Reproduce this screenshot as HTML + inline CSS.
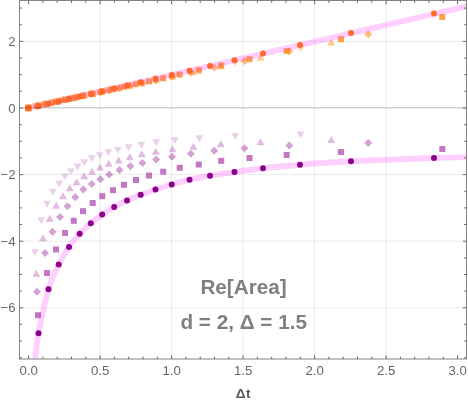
<!DOCTYPE html>
<html><head><meta charset="utf-8"><title>Re[Area]</title>
<style>
html,body{margin:0;padding:0;background:#fff;}
svg{display:block;will-change:transform;}
text{font-family:"Liberation Sans",Arial,sans-serif;}
.tk{font-size:13.2px;fill:#666;}
  .big{font-size:20.7px;font-weight:bold;fill:#808080;}
.ax{font-size:13.6px;font-weight:bold;fill:#5a5a5a;letter-spacing:0.4px;}
</style></head><body>
<svg width="468" height="403" viewBox="0 0 468 403">
<rect width="468" height="403" fill="#fff"/>
<defs><clipPath id="c"><rect x="19.5" y="0.5" width="447.0" height="358.5"/></clipPath></defs>

<path d="M100.1 0.5V359.0M171.6 0.5V359.0M243.1 0.5V359.0M314.6 0.5V359.0M386.1 0.5V359.0M19.5 41.4H466.5M19.5 174.6H466.5M19.5 241.2H466.5M19.5 307.8H466.5" stroke="#d6d6d6" stroke-width="0.5" fill="none"/>
<path d="M28.4 111.4L32.4 104.4L24.4 104.4Z" fill="#ff8a14" fill-opacity="0.33"/>
<path d="M35.0 110.0L39.0 103.0L31.0 103.0Z" fill="#ff8a14" fill-opacity="0.33"/>
<path d="M41.2 108.7L45.2 101.7L37.2 101.7Z" fill="#ff8a14" fill-opacity="0.33"/>
<path d="M47.0 107.4L51.0 100.4L43.0 100.4Z" fill="#ff8a14" fill-opacity="0.33"/>
<path d="M52.9 106.1L56.9 99.1L48.9 99.1Z" fill="#ff8a14" fill-opacity="0.33"/>
<path d="M59.0 104.8L63.0 97.8L55.0 97.8Z" fill="#ff8a14" fill-opacity="0.33"/>
<path d="M65.0 103.5L69.0 96.5L61.0 96.5Z" fill="#ff8a14" fill-opacity="0.33"/>
<path d="M71.0 102.2L75.0 95.2L67.0 95.2Z" fill="#ff8a14" fill-opacity="0.33"/>
<path d="M77.5 100.8L81.5 93.8L73.5 93.8Z" fill="#ff8a14" fill-opacity="0.33"/>
<path d="M84.3 99.3L88.3 92.3L80.3 92.3Z" fill="#ff8a14" fill-opacity="0.33"/>
<path d="M91.8 97.7L95.8 90.7L87.8 90.7Z" fill="#ff8a14" fill-opacity="0.33"/>
<path d="M99.7 96.0L103.7 89.0L95.7 89.0Z" fill="#ff8a14" fill-opacity="0.33"/>
<path d="M108.3 94.1L112.3 87.1L104.3 87.1Z" fill="#ff8a14" fill-opacity="0.33"/>
<path d="M117.8 92.1L121.8 85.1L113.8 85.1Z" fill="#ff8a14" fill-opacity="0.33"/>
<path d="M128.7 89.7L132.7 82.7L124.7 82.7Z" fill="#ff8a14" fill-opacity="0.33"/>
<path d="M141.3 87.0L145.3 80.0L137.3 80.0Z" fill="#ff8a14" fill-opacity="0.33"/>
<path d="M156.2 83.7L160.2 76.7L152.2 76.7Z" fill="#ff8a14" fill-opacity="0.33"/>
<path d="M174.7 79.7L178.7 72.7L170.7 72.7Z" fill="#ff8a14" fill-opacity="0.33"/>
<path d="M199.5 74.3L203.5 67.3L195.5 67.3Z" fill="#ff8a14" fill-opacity="0.33"/>
<path d="M235.2 66.6L239.2 59.6L231.2 59.6Z" fill="#ff8a14" fill-opacity="0.33"/>
<path d="M300.5 52.5L304.5 45.5L296.5 45.5Z" fill="#ff8a14" fill-opacity="0.33"/>
<path d="M28.4 104.4L32.4 111.4L24.4 111.4Z" fill="#ff8a14" fill-opacity="0.45"/>
<path d="M36.3 101.8L40.3 108.8L32.3 108.8Z" fill="#ff8a14" fill-opacity="0.45"/>
<path d="M43.0 100.4L47.0 107.4L39.0 107.4Z" fill="#ff8a14" fill-opacity="0.45"/>
<path d="M49.7 99.0L53.7 106.0L45.7 106.0Z" fill="#ff8a14" fill-opacity="0.45"/>
<path d="M56.2 97.6L60.2 104.6L52.2 104.6Z" fill="#ff8a14" fill-opacity="0.45"/>
<path d="M63.0 96.1L67.0 103.1L59.0 103.1Z" fill="#ff8a14" fill-opacity="0.45"/>
<path d="M69.8 94.7L73.8 101.7L65.8 101.7Z" fill="#ff8a14" fill-opacity="0.45"/>
<path d="M76.7 93.2L80.7 100.2L72.7 100.2Z" fill="#ff8a14" fill-opacity="0.45"/>
<path d="M84.2 91.6L88.2 98.6L80.2 98.6Z" fill="#ff8a14" fill-opacity="0.45"/>
<path d="M92.0 89.9L96.0 96.9L88.0 96.9Z" fill="#ff8a14" fill-opacity="0.45"/>
<path d="M100.0 88.2L104.0 95.2L96.0 95.2Z" fill="#ff8a14" fill-opacity="0.45"/>
<path d="M108.7 86.3L112.7 93.3L104.7 93.3Z" fill="#ff8a14" fill-opacity="0.45"/>
<path d="M118.7 84.2L122.7 91.2L114.7 91.2Z" fill="#ff8a14" fill-opacity="0.45"/>
<path d="M129.7 81.8L133.7 88.8L125.7 88.8Z" fill="#ff8a14" fill-opacity="0.45"/>
<path d="M141.7 79.2L145.7 86.2L137.7 86.2Z" fill="#ff8a14" fill-opacity="0.45"/>
<path d="M155.8 76.2L159.8 83.2L151.8 83.2Z" fill="#ff8a14" fill-opacity="0.45"/>
<path d="M172.5 72.6L176.5 79.6L168.5 79.6Z" fill="#ff8a14" fill-opacity="0.45"/>
<path d="M193.3 68.2L197.3 75.2L189.3 75.2Z" fill="#ff8a14" fill-opacity="0.45"/>
<path d="M220.8 62.3L224.8 69.3L216.8 69.3Z" fill="#ff8a14" fill-opacity="0.45"/>
<path d="M260.5 53.8L264.5 60.8L256.5 60.8Z" fill="#ff8a14" fill-opacity="0.45"/>
<path d="M331.2 38.6L335.2 45.6L327.2 45.6Z" fill="#ff8a14" fill-opacity="0.45"/>
<path d="M28.4 103.9L32.4 107.9L28.4 111.9L24.4 107.9Z" fill="#ff8a14" fill-opacity="0.58"/>
<path d="M37.0 102.1L41.0 106.1L37.0 110.1L33.0 106.1Z" fill="#ff8a14" fill-opacity="0.58"/>
<path d="M45.0 100.3L49.0 104.3L45.0 108.3L41.0 104.3Z" fill="#ff8a14" fill-opacity="0.58"/>
<path d="M52.5 98.7L56.5 102.7L52.5 106.7L48.5 102.7Z" fill="#ff8a14" fill-opacity="0.58"/>
<path d="M60.0 97.1L64.0 101.1L60.0 105.1L56.0 101.1Z" fill="#ff8a14" fill-opacity="0.58"/>
<path d="M67.5 95.5L71.5 99.5L67.5 103.5L63.5 99.5Z" fill="#ff8a14" fill-opacity="0.58"/>
<path d="M75.3 93.8L79.3 97.8L75.3 101.8L71.3 97.8Z" fill="#ff8a14" fill-opacity="0.58"/>
<path d="M83.3 92.0L87.3 96.0L83.3 100.0L79.3 96.0Z" fill="#ff8a14" fill-opacity="0.58"/>
<path d="M91.7 90.2L95.7 94.2L91.7 98.2L87.7 94.2Z" fill="#ff8a14" fill-opacity="0.58"/>
<path d="M100.3 88.3L104.3 92.3L100.3 96.3L96.3 92.3Z" fill="#ff8a14" fill-opacity="0.58"/>
<path d="M109.2 86.4L113.2 90.4L109.2 94.4L105.2 90.4Z" fill="#ff8a14" fill-opacity="0.58"/>
<path d="M119.5 84.2L123.5 88.2L119.5 92.2L115.5 88.2Z" fill="#ff8a14" fill-opacity="0.58"/>
<path d="M130.3 81.8L134.3 85.8L130.3 89.8L126.3 85.8Z" fill="#ff8a14" fill-opacity="0.58"/>
<path d="M142.5 79.2L146.5 83.2L142.5 87.2L138.5 83.2Z" fill="#ff8a14" fill-opacity="0.58"/>
<path d="M156.2 76.2L160.2 80.2L156.2 84.2L152.2 80.2Z" fill="#ff8a14" fill-opacity="0.58"/>
<path d="M172.0 72.8L176.0 76.8L172.0 80.8L168.0 76.8Z" fill="#ff8a14" fill-opacity="0.58"/>
<path d="M190.8 68.7L194.8 72.7L190.8 76.7L186.8 72.7Z" fill="#ff8a14" fill-opacity="0.58"/>
<path d="M214.2 63.6L218.2 67.6L214.2 71.6L210.2 67.6Z" fill="#ff8a14" fill-opacity="0.58"/>
<path d="M244.5 57.0L248.5 61.0L244.5 65.0L240.5 61.0Z" fill="#ff8a14" fill-opacity="0.58"/>
<path d="M289.3 47.3L293.3 51.3L289.3 55.3L285.3 51.3Z" fill="#ff8a14" fill-opacity="0.58"/>
<path d="M368.2 30.2L372.2 34.2L368.2 38.2L364.2 34.2Z" fill="#ff8a14" fill-opacity="0.58"/>
<rect x="25.4" y="104.9" width="6.0" height="6.0" fill="#ff8a14" fill-opacity="0.76"/>
<rect x="35.0" y="102.7" width="6.0" height="6.0" fill="#ff8a14" fill-opacity="0.76"/>
<rect x="44.0" y="100.8" width="6.0" height="6.0" fill="#ff8a14" fill-opacity="0.76"/>
<rect x="53.0" y="98.8" width="6.0" height="6.0" fill="#ff8a14" fill-opacity="0.76"/>
<rect x="62.0" y="96.8" width="6.0" height="6.0" fill="#ff8a14" fill-opacity="0.76"/>
<rect x="70.8" y="94.9" width="6.0" height="6.0" fill="#ff8a14" fill-opacity="0.76"/>
<rect x="80.0" y="92.9" width="6.0" height="6.0" fill="#ff8a14" fill-opacity="0.76"/>
<rect x="89.7" y="90.7" width="6.0" height="6.0" fill="#ff8a14" fill-opacity="0.76"/>
<rect x="99.3" y="88.6" width="6.0" height="6.0" fill="#ff8a14" fill-opacity="0.76"/>
<rect x="110.0" y="86.3" width="6.0" height="6.0" fill="#ff8a14" fill-opacity="0.76"/>
<rect x="121.0" y="83.9" width="6.0" height="6.0" fill="#ff8a14" fill-opacity="0.76"/>
<rect x="133.0" y="81.2" width="6.0" height="6.0" fill="#ff8a14" fill-opacity="0.76"/>
<rect x="146.0" y="78.4" width="6.0" height="6.0" fill="#ff8a14" fill-opacity="0.76"/>
<rect x="160.2" y="75.3" width="6.0" height="6.0" fill="#ff8a14" fill-opacity="0.76"/>
<rect x="176.7" y="71.6" width="6.0" height="6.0" fill="#ff8a14" fill-opacity="0.76"/>
<rect x="195.8" y="67.4" width="6.0" height="6.0" fill="#ff8a14" fill-opacity="0.76"/>
<rect x="218.2" y="62.5" width="6.0" height="6.0" fill="#ff8a14" fill-opacity="0.76"/>
<rect x="246.5" y="56.3" width="6.0" height="6.0" fill="#ff8a14" fill-opacity="0.76"/>
<rect x="283.7" y="48.1" width="6.0" height="6.0" fill="#ff8a14" fill-opacity="0.76"/>
<rect x="338.0" y="36.2" width="6.0" height="6.0" fill="#ff8a14" fill-opacity="0.76"/>
<rect x="439.3" y="14.0" width="6.0" height="6.0" fill="#ff8a14" fill-opacity="0.76"/>
<path d="M35.0 256.0L39.0 249.0L31.0 249.0Z" fill="#8b008b" fill-opacity="0.18"/>
<path d="M41.2 224.3L45.2 217.3L37.2 217.3Z" fill="#8b008b" fill-opacity="0.18"/>
<path d="M47.0 207.7L51.0 200.7L43.0 200.7Z" fill="#8b008b" fill-opacity="0.18"/>
<path d="M52.9 195.7L56.9 188.7L48.9 188.7Z" fill="#8b008b" fill-opacity="0.18"/>
<path d="M59.0 187.5L63.0 180.5L55.0 180.5Z" fill="#8b008b" fill-opacity="0.18"/>
<path d="M65.0 180.5L69.0 173.5L61.0 173.5Z" fill="#8b008b" fill-opacity="0.18"/>
<path d="M71.0 175.2L75.0 168.2L67.0 168.2Z" fill="#8b008b" fill-opacity="0.18"/>
<path d="M77.5 170.5L81.5 163.5L73.5 163.5Z" fill="#8b008b" fill-opacity="0.18"/>
<path d="M84.3 166.3L88.3 159.3L80.3 159.3Z" fill="#8b008b" fill-opacity="0.18"/>
<path d="M91.8 162.3L95.8 155.3L87.8 155.3Z" fill="#8b008b" fill-opacity="0.18"/>
<path d="M99.7 159.3L103.7 152.3L95.7 152.3Z" fill="#8b008b" fill-opacity="0.18"/>
<path d="M108.3 156.3L112.3 149.3L104.3 149.3Z" fill="#8b008b" fill-opacity="0.18"/>
<path d="M117.8 153.8L121.8 146.8L113.8 146.8Z" fill="#8b008b" fill-opacity="0.18"/>
<path d="M128.7 151.3L132.7 144.3L124.7 144.3Z" fill="#8b008b" fill-opacity="0.18"/>
<path d="M141.3 148.8L145.3 141.8L137.3 141.8Z" fill="#8b008b" fill-opacity="0.18"/>
<path d="M156.2 146.3L160.2 139.3L152.2 139.3Z" fill="#8b008b" fill-opacity="0.18"/>
<path d="M174.7 144.3L178.7 137.3L170.7 137.3Z" fill="#8b008b" fill-opacity="0.18"/>
<path d="M199.5 142.3L203.5 135.3L195.5 135.3Z" fill="#8b008b" fill-opacity="0.18"/>
<path d="M235.2 140.2L239.2 133.2L231.2 133.2Z" fill="#8b008b" fill-opacity="0.18"/>
<path d="M300.5 138.5L304.5 131.5L296.5 131.5Z" fill="#8b008b" fill-opacity="0.18"/>
<path d="M36.3 269.8L40.3 276.8L32.3 276.8Z" fill="#8b008b" fill-opacity="0.27"/>
<path d="M43.0 234.3L47.0 241.3L39.0 241.3Z" fill="#8b008b" fill-opacity="0.27"/>
<path d="M49.7 214.8L53.7 221.8L45.7 221.8Z" fill="#8b008b" fill-opacity="0.27"/>
<path d="M56.2 201.8L60.2 208.8L52.2 208.8Z" fill="#8b008b" fill-opacity="0.27"/>
<path d="M63.0 192.3L67.0 199.3L59.0 199.3Z" fill="#8b008b" fill-opacity="0.27"/>
<path d="M69.8 184.2L73.8 191.2L65.8 191.2Z" fill="#8b008b" fill-opacity="0.27"/>
<path d="M76.7 178.3L80.7 185.3L72.7 185.3Z" fill="#8b008b" fill-opacity="0.27"/>
<path d="M84.2 172.3L88.2 179.3L80.2 179.3Z" fill="#8b008b" fill-opacity="0.27"/>
<path d="M92.0 167.7L96.0 174.7L88.0 174.7Z" fill="#8b008b" fill-opacity="0.27"/>
<path d="M100.0 163.5L104.0 170.5L96.0 170.5Z" fill="#8b008b" fill-opacity="0.27"/>
<path d="M108.7 159.8L112.7 166.8L104.7 166.8Z" fill="#8b008b" fill-opacity="0.27"/>
<path d="M118.7 156.5L122.7 163.5L114.7 163.5Z" fill="#8b008b" fill-opacity="0.27"/>
<path d="M129.7 153.2L133.7 160.2L125.7 160.2Z" fill="#8b008b" fill-opacity="0.27"/>
<path d="M141.7 150.3L145.7 157.3L137.7 157.3Z" fill="#8b008b" fill-opacity="0.27"/>
<path d="M155.8 147.7L159.8 154.7L151.8 154.7Z" fill="#8b008b" fill-opacity="0.27"/>
<path d="M172.5 145.3L176.5 152.3L168.5 152.3Z" fill="#8b008b" fill-opacity="0.27"/>
<path d="M193.3 142.8L197.3 149.8L189.3 149.8Z" fill="#8b008b" fill-opacity="0.27"/>
<path d="M220.8 140.3L224.8 147.3L216.8 147.3Z" fill="#8b008b" fill-opacity="0.27"/>
<path d="M260.5 138.2L264.5 145.2L256.5 145.2Z" fill="#8b008b" fill-opacity="0.27"/>
<path d="M331.2 136.0L335.2 143.0L327.2 143.0Z" fill="#8b008b" fill-opacity="0.27"/>
<path d="M37.0 287.7L41.0 291.7L37.0 295.7L33.0 291.7Z" fill="#8b008b" fill-opacity="0.37"/>
<path d="M45.0 249.0L49.0 253.0L45.0 257.0L41.0 253.0Z" fill="#8b008b" fill-opacity="0.37"/>
<path d="M52.5 227.7L56.5 231.7L52.5 235.7L48.5 231.7Z" fill="#8b008b" fill-opacity="0.37"/>
<path d="M60.0 213.0L64.0 217.0L60.0 221.0L56.0 217.0Z" fill="#8b008b" fill-opacity="0.37"/>
<path d="M67.5 202.2L71.5 206.2L67.5 210.2L63.5 206.2Z" fill="#8b008b" fill-opacity="0.37"/>
<path d="M75.3 193.2L79.3 197.2L75.3 201.2L71.3 197.2Z" fill="#8b008b" fill-opacity="0.37"/>
<path d="M83.3 185.6L87.3 189.6L83.3 193.6L79.3 189.6Z" fill="#8b008b" fill-opacity="0.37"/>
<path d="M91.7 180.0L95.7 184.0L91.7 188.0L87.7 184.0Z" fill="#8b008b" fill-opacity="0.37"/>
<path d="M100.3 175.2L104.3 179.2L100.3 183.2L96.3 179.2Z" fill="#8b008b" fill-opacity="0.37"/>
<path d="M109.2 170.5L113.2 174.5L109.2 178.5L105.2 174.5Z" fill="#8b008b" fill-opacity="0.37"/>
<path d="M119.5 166.0L123.5 170.0L119.5 174.0L115.5 170.0Z" fill="#8b008b" fill-opacity="0.37"/>
<path d="M130.3 162.3L134.3 166.3L130.3 170.3L126.3 166.3Z" fill="#8b008b" fill-opacity="0.37"/>
<path d="M142.5 159.0L146.5 163.0L142.5 167.0L138.5 163.0Z" fill="#8b008b" fill-opacity="0.37"/>
<path d="M156.2 155.5L160.2 159.5L156.2 163.5L152.2 159.5Z" fill="#8b008b" fill-opacity="0.37"/>
<path d="M172.0 152.7L176.0 156.7L172.0 160.7L168.0 156.7Z" fill="#8b008b" fill-opacity="0.37"/>
<path d="M190.8 149.7L194.8 153.7L190.8 157.7L186.8 153.7Z" fill="#8b008b" fill-opacity="0.37"/>
<path d="M214.2 146.8L218.2 150.8L214.2 154.8L210.2 150.8Z" fill="#8b008b" fill-opacity="0.37"/>
<path d="M244.5 144.2L248.5 148.2L244.5 152.2L240.5 148.2Z" fill="#8b008b" fill-opacity="0.37"/>
<path d="M289.3 141.5L293.3 145.5L289.3 149.5L285.3 145.5Z" fill="#8b008b" fill-opacity="0.37"/>
<path d="M368.2 139.0L372.2 143.0L368.2 147.0L364.2 143.0Z" fill="#8b008b" fill-opacity="0.37"/>
<rect x="35.0" y="312.2" width="6.0" height="6.0" fill="#8b008b" fill-opacity="0.53"/>
<rect x="44.0" y="270.0" width="6.0" height="6.0" fill="#8b008b" fill-opacity="0.53"/>
<rect x="53.0" y="246.5" width="6.0" height="6.0" fill="#8b008b" fill-opacity="0.53"/>
<rect x="62.0" y="230.0" width="6.0" height="6.0" fill="#8b008b" fill-opacity="0.53"/>
<rect x="70.8" y="217.8" width="6.0" height="6.0" fill="#8b008b" fill-opacity="0.53"/>
<rect x="80.0" y="208.2" width="6.0" height="6.0" fill="#8b008b" fill-opacity="0.53"/>
<rect x="89.7" y="200.0" width="6.0" height="6.0" fill="#8b008b" fill-opacity="0.53"/>
<rect x="99.3" y="193.2" width="6.0" height="6.0" fill="#8b008b" fill-opacity="0.53"/>
<rect x="110.0" y="187.2" width="6.0" height="6.0" fill="#8b008b" fill-opacity="0.53"/>
<rect x="121.0" y="181.8" width="6.0" height="6.0" fill="#8b008b" fill-opacity="0.53"/>
<rect x="133.0" y="177.0" width="6.0" height="6.0" fill="#8b008b" fill-opacity="0.53"/>
<rect x="146.0" y="172.6" width="6.0" height="6.0" fill="#8b008b" fill-opacity="0.53"/>
<rect x="160.2" y="168.7" width="6.0" height="6.0" fill="#8b008b" fill-opacity="0.53"/>
<rect x="176.7" y="164.8" width="6.0" height="6.0" fill="#8b008b" fill-opacity="0.53"/>
<rect x="195.8" y="161.5" width="6.0" height="6.0" fill="#8b008b" fill-opacity="0.53"/>
<rect x="218.2" y="157.8" width="6.0" height="6.0" fill="#8b008b" fill-opacity="0.53"/>
<rect x="246.5" y="155.0" width="6.0" height="6.0" fill="#8b008b" fill-opacity="0.53"/>
<rect x="283.7" y="152.0" width="6.0" height="6.0" fill="#8b008b" fill-opacity="0.53"/>
<rect x="338.0" y="149.0" width="6.0" height="6.0" fill="#8b008b" fill-opacity="0.53"/>
<rect x="439.3" y="146.0" width="6.0" height="6.0" fill="#8b008b" fill-opacity="0.53"/>
<g clip-path="url(#c)">
<path d="M28.6 108.2L471.5 5.2" stroke="#ff00ff" stroke-opacity="0.185" stroke-width="5.9" fill="none" stroke-linecap="butt"/>
<path d="M33.2 380.0C33.6 376.3 34.4 365.8 35.3 358.0C36.2 350.2 36.3 344.6 38.5 333.2C40.7 321.8 45.1 300.8 48.5 289.3C51.9 277.9 55.3 271.6 58.7 264.5C62.1 257.4 65.5 252.1 69.0 247.0C72.5 241.9 76.1 237.6 79.7 233.7C83.3 229.8 87.0 226.5 90.8 223.3C94.5 220.1 98.3 217.2 102.2 214.5C106.1 211.8 110.1 209.3 114.2 207.0C118.3 204.7 122.6 202.6 127.0 200.5C131.4 198.4 135.9 196.5 140.7 194.7C145.4 192.9 150.3 191.2 155.5 189.5C160.7 187.8 166.0 186.1 171.7 184.5C177.4 182.9 183.1 181.1 189.5 179.7C195.9 178.2 202.5 177.1 210.0 175.8C217.5 174.5 225.7 173.2 234.5 172.0C243.3 170.8 252.1 169.5 263.0 168.3C273.9 167.1 285.3 165.9 300.0 164.7C314.7 163.5 328.7 162.4 351.0 161.3C373.3 160.2 414.8 158.7 434.0 158.0C453.2 157.3 458.3 157.5 466.0 157.3C473.7 157.1 477.7 157.0 480.0 156.9" stroke="#ff00ff" stroke-opacity="0.185" stroke-width="5.9" fill="none"/>
</g>
<rect x="25.3" y="104.7" width="6.2" height="6.2" fill="#ff6122" fill-opacity="0.7"/>
<circle cx="28.4" cy="107.9" r="3.0" fill="#ff6526" fill-opacity="0.96"/>
<circle cx="38.5" cy="106.2" r="3.0" fill="#ff6526" fill-opacity="0.96"/>
<circle cx="48.5" cy="103.8" r="3.0" fill="#ff6526" fill-opacity="0.96"/>
<circle cx="58.7" cy="101.4" r="3.0" fill="#ff6526" fill-opacity="0.96"/>
<circle cx="69.0" cy="99.0" r="3.0" fill="#ff6526" fill-opacity="0.96"/>
<circle cx="79.7" cy="96.5" r="3.0" fill="#ff6526" fill-opacity="0.96"/>
<circle cx="90.8" cy="93.9" r="3.0" fill="#ff6526" fill-opacity="0.96"/>
<circle cx="102.2" cy="91.2" r="3.0" fill="#ff6526" fill-opacity="0.96"/>
<circle cx="114.2" cy="88.4" r="3.0" fill="#ff6526" fill-opacity="0.96"/>
<circle cx="127.0" cy="85.4" r="3.0" fill="#ff6526" fill-opacity="0.96"/>
<circle cx="140.7" cy="82.2" r="3.0" fill="#ff6526" fill-opacity="0.96"/>
<circle cx="155.5" cy="78.7" r="3.0" fill="#ff6526" fill-opacity="0.96"/>
<circle cx="171.7" cy="74.9" r="3.0" fill="#ff6526" fill-opacity="0.96"/>
<circle cx="189.5" cy="70.8" r="3.0" fill="#ff6526" fill-opacity="0.96"/>
<circle cx="210.0" cy="66.0" r="3.0" fill="#ff6526" fill-opacity="0.96"/>
<circle cx="234.5" cy="60.2" r="3.0" fill="#ff6526" fill-opacity="0.96"/>
<circle cx="263.0" cy="53.5" r="3.0" fill="#ff6526" fill-opacity="0.96"/>
<circle cx="300.0" cy="44.9" r="3.0" fill="#ff6526" fill-opacity="0.96"/>
<circle cx="351.0" cy="32.9" r="3.0" fill="#ff6526" fill-opacity="0.96"/>
<circle cx="434.0" cy="13.4" r="3.0" fill="#ff6526" fill-opacity="0.96"/>
<circle cx="38.5" cy="333.2" r="3.0" fill="#8b008b" fill-opacity="1"/>
<circle cx="48.5" cy="289.3" r="3.0" fill="#8b008b" fill-opacity="1"/>
<circle cx="58.7" cy="264.5" r="3.0" fill="#8b008b" fill-opacity="1"/>
<circle cx="69.0" cy="247.0" r="3.0" fill="#8b008b" fill-opacity="1"/>
<circle cx="79.7" cy="233.7" r="3.0" fill="#8b008b" fill-opacity="1"/>
<circle cx="90.8" cy="223.3" r="3.0" fill="#8b008b" fill-opacity="1"/>
<circle cx="102.2" cy="214.5" r="3.0" fill="#8b008b" fill-opacity="1"/>
<circle cx="114.2" cy="207.0" r="3.0" fill="#8b008b" fill-opacity="1"/>
<circle cx="127.0" cy="200.5" r="3.0" fill="#8b008b" fill-opacity="1"/>
<circle cx="140.7" cy="194.7" r="3.0" fill="#8b008b" fill-opacity="1"/>
<circle cx="155.5" cy="189.5" r="3.0" fill="#8b008b" fill-opacity="1"/>
<circle cx="171.7" cy="184.5" r="3.0" fill="#8b008b" fill-opacity="1"/>
<circle cx="189.5" cy="179.7" r="3.0" fill="#8b008b" fill-opacity="1"/>
<circle cx="210.0" cy="175.8" r="3.0" fill="#8b008b" fill-opacity="1"/>
<circle cx="234.5" cy="172.0" r="3.0" fill="#8b008b" fill-opacity="1"/>
<circle cx="263.0" cy="168.3" r="3.0" fill="#8b008b" fill-opacity="1"/>
<circle cx="300.0" cy="164.7" r="3.0" fill="#8b008b" fill-opacity="1"/>
<circle cx="351.0" cy="161.3" r="3.0" fill="#8b008b" fill-opacity="1"/>
<circle cx="434.0" cy="158.0" r="3.0" fill="#8b008b" fill-opacity="1"/>
<path d="M19.5 107.75H466.5" stroke="#000" stroke-opacity="0.25" stroke-width="1" fill="none"/>
<rect x="19.5" y="0.5" width="447.0" height="358.5" fill="none" stroke="#848484" stroke-width="1"/>
<path d="M28.6 359.0v-3.7M28.6 0.5v3.7M42.9 359.0v-2.4M42.9 0.5v2.4M57.2 359.0v-2.4M57.2 0.5v2.4M71.5 359.0v-2.4M71.5 0.5v2.4M85.8 359.0v-2.4M85.8 0.5v2.4M100.1 359.0v-3.7M100.1 0.5v3.7M114.4 359.0v-2.4M114.4 0.5v2.4M128.7 359.0v-2.4M128.7 0.5v2.4M143.0 359.0v-2.4M143.0 0.5v2.4M157.3 359.0v-2.4M157.3 0.5v2.4M171.6 359.0v-3.7M171.6 0.5v3.7M185.9 359.0v-2.4M185.9 0.5v2.4M200.2 359.0v-2.4M200.2 0.5v2.4M214.5 359.0v-2.4M214.5 0.5v2.4M228.8 359.0v-2.4M228.8 0.5v2.4M243.1 359.0v-3.7M243.1 0.5v3.7M257.4 359.0v-2.4M257.4 0.5v2.4M271.7 359.0v-2.4M271.7 0.5v2.4M286.0 359.0v-2.4M286.0 0.5v2.4M300.3 359.0v-2.4M300.3 0.5v2.4M314.6 359.0v-3.7M314.6 0.5v3.7M328.9 359.0v-2.4M328.9 0.5v2.4M343.2 359.0v-2.4M343.2 0.5v2.4M357.5 359.0v-2.4M357.5 0.5v2.4M371.8 359.0v-2.4M371.8 0.5v2.4M386.1 359.0v-3.7M386.1 0.5v3.7M400.4 359.0v-2.4M400.4 0.5v2.4M414.7 359.0v-2.4M414.7 0.5v2.4M429.0 359.0v-2.4M429.0 0.5v2.4M443.3 359.0v-2.4M443.3 0.5v2.4M457.6 359.0v-3.7M457.6 0.5v3.7M19.5 357.8h2.4M466.5 357.8h-2.4M19.5 341.1h2.4M466.5 341.1h-2.4M19.5 324.4h2.4M466.5 324.4h-2.4M19.5 307.8h3.7M466.5 307.8h-3.7M19.5 291.1h2.4M466.5 291.1h-2.4M19.5 274.5h2.4M466.5 274.5h-2.4M19.5 257.9h2.4M466.5 257.9h-2.4M19.5 241.2h3.7M466.5 241.2h-3.7M19.5 224.5h2.4M466.5 224.5h-2.4M19.5 207.9h2.4M466.5 207.9h-2.4M19.5 191.2h2.4M466.5 191.2h-2.4M19.5 174.6h3.7M466.5 174.6h-3.7M19.5 157.9h2.4M466.5 157.9h-2.4M19.5 141.3h2.4M466.5 141.3h-2.4M19.5 124.7h2.4M466.5 124.7h-2.4M19.5 108.0h3.7M466.5 108.0h-3.7M19.5 91.3h2.4M466.5 91.3h-2.4M19.5 74.7h2.4M466.5 74.7h-2.4M19.5 58.1h2.4M466.5 58.1h-2.4M19.5 41.4h3.7M466.5 41.4h-3.7M19.5 24.8h2.4M466.5 24.8h-2.4M19.5 8.1h2.4M466.5 8.1h-2.4" stroke="#666" stroke-width="1" fill="none"/>
<text class="tk" x="28.6" y="375" text-anchor="middle">0.0</text>
<text class="tk" x="100.1" y="375" text-anchor="middle">0.5</text>
<text class="tk" x="171.6" y="375" text-anchor="middle">1.0</text>
<text class="tk" x="243.1" y="375" text-anchor="middle">1.5</text>
<text class="tk" x="314.6" y="375" text-anchor="middle">2.0</text>
<text class="tk" x="386.1" y="375" text-anchor="middle">2.5</text>
<text class="tk" x="457.6" y="375" text-anchor="middle">3.0</text>
<text class="tk" x="15.5" y="46.0" text-anchor="end">2</text>
<text class="tk" x="15.5" y="112.6" text-anchor="end">0</text>
<text class="tk" x="15.5" y="179.2" text-anchor="end">−2</text>
<text class="tk" x="15.5" y="245.8" text-anchor="end">−4</text>
<text class="tk" x="15.5" y="312.4" text-anchor="end">−6</text>
<text class="ax" x="243.4" y="397.5" text-anchor="middle">Δt</text>
<text class="big" x="243.5" y="294.3" text-anchor="middle">Re[Area]</text>
<text class="big" x="243.7" y="329.4" text-anchor="middle">d = 2, Δ = 1.5</text>
</svg></body></html>
